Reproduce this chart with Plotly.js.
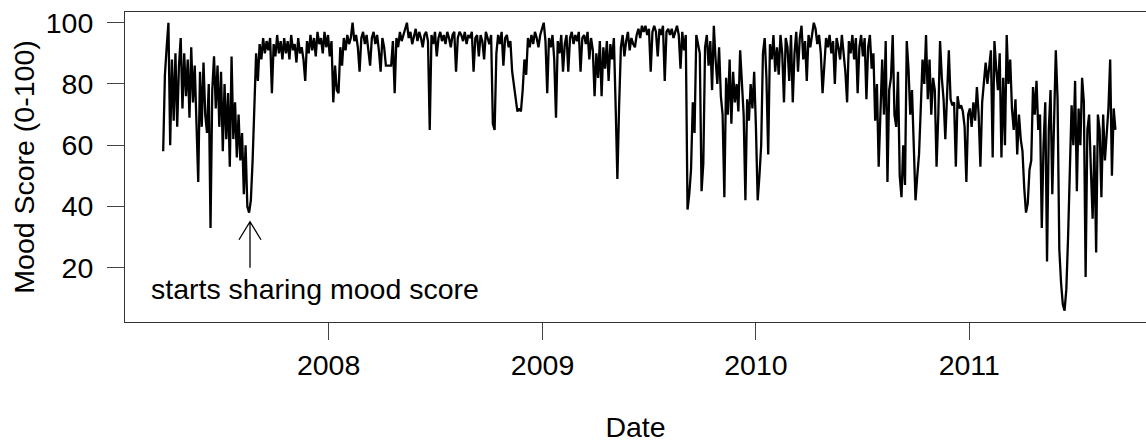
<!DOCTYPE html>
<html>
<head>
<meta charset="utf-8">
<script src="https://cdn.plot.ly/plotly-3.0.1.min.js"></script>
<style>
  html, body { margin: 0; padding: 0; background: #fff; }
  #chart { width: 1146px; height: 443px; }
</style>
</head>
<body>
<div id="chart"></div>
<script>
// Mood score series, one reading every three days starting on firstDay.
const firstDay = '2007-03-24';
const stepDays = 3;

// Mar 2007 - mid Jan 2008
const scores2007 = [
  58, 83, 92, 100, 60, 88, 68, 90, 66, 86,
  95, 72, 90, 76, 88, 69, 92, 74, 86, 70,
  48, 84, 66, 87, 70, 64, 80, 33, 78, 89,
  72, 86, 66, 84, 58, 80, 62, 77, 53, 89,
  62, 74, 56, 70, 55, 64, 44, 60, 40, 38,
  42, 55, 72, 90, 81, 93, 88, 95, 90, 94,
  91, 95, 77, 93, 89, 96, 90, 94, 88, 95,
  90, 94, 88, 96, 91, 93, 87, 95, 90, 92,
  88, 81, 94, 90, 96, 91, 95, 89, 97, 93,
  95, 90, 97, 92, 96, 89, 94, 74, 86, 78
];

// mid Jan 2008 - early Jan 2009
const scores2008 = [
  77, 92, 86, 95, 91, 96, 93, 95, 100, 94,
  96, 92, 84, 95, 97, 93, 96, 90, 86, 95,
  97, 93, 96, 91, 84, 95, 92, 86, 86, 86,
  86, 94, 77, 95, 92, 97, 94, 96, 98, 100,
  95, 97, 93, 96, 98, 94, 97, 95, 92, 96,
  97, 94, 65, 96, 93, 97, 89, 95, 97, 94,
  96, 93, 97, 95, 92, 96, 97, 84, 95, 97,
  96, 94, 97, 93, 96, 95, 97, 84, 95, 96,
  89, 96, 94, 88, 97, 95, 93, 96, 67, 65,
  90, 96, 93, 97, 86, 95, 96, 92, 94, 84,
  80, 75, 71, 72, 71, 78, 88, 83, 95, 92,
  96, 93, 97, 95, 92, 96, 98, 100, 94, 77
];

// Jan 2009 - early Jan 2010
const scores2009 = [
  95, 92, 96, 88, 69, 94, 90, 96, 84, 93,
  96, 84, 95, 97, 93, 96, 94, 97, 84, 95,
  96, 93, 97, 88, 95, 91, 76, 90, 82, 94,
  76, 92, 85, 94, 81, 93, 88, 95, 73, 49,
  73, 92, 96, 89, 94, 97, 91, 95, 93, 92,
  96, 98, 95, 99, 97, 99, 96, 98, 84, 97,
  99, 97, 89, 98, 96, 99, 81, 97, 98, 96,
  98, 95, 97, 99, 96, 85, 97, 91, 96, 39,
  44, 52, 74, 64, 96, 93, 90, 45, 54, 92,
  96, 86, 94, 78, 99, 88, 80, 92, 76, 70,
  43, 82, 70, 88, 67, 84, 74, 80, 71, 91,
  78, 70, 42, 75, 68, 80, 72, 84, 66, 42
];

// Jan 2010 - Dec 2010
const scores2010 = [
  50, 60, 90, 95, 82, 57, 93, 88, 96, 84,
  92, 83, 96, 90, 74, 95, 92, 81, 96, 74,
  90, 97, 84, 95, 99, 88, 94, 81, 96, 92,
  96, 100, 98, 93, 96, 90, 77, 85, 95, 92,
  96, 90, 94, 80, 95, 92, 88, 96, 90, 84,
  74, 94, 90, 96, 88, 95, 77, 92, 96, 89,
  95, 75, 92, 96, 85, 90, 68, 80, 53, 72,
  88, 70, 94, 48, 78, 82, 96, 70, 66, 84,
  50, 43, 60, 47, 94, 85, 70, 78, 62, 42,
  50, 57, 72, 88, 80, 96, 75, 88, 70, 82,
  78, 53, 70, 94, 82, 75, 62, 80, 91, 75,
  73, 74, 53, 76, 72, 73, 71, 66, 48, 70
];

// Jan 2011 - Sep 2011
const scores2011 = [
  72, 66, 74, 68, 79, 70, 53, 74, 82, 87,
  80, 86, 91, 56, 94, 85, 78, 90, 56, 82,
  60, 96, 80, 88, 72, 65, 75, 57, 70, 62,
  58, 46, 38, 41, 52, 55, 79, 70, 81, 65,
  70, 33, 60, 74, 22, 65, 78, 44, 72, 91,
  75, 26, 15, 8, 6, 13, 30, 55, 73, 60,
  81, 45, 72, 60, 82, 74, 17, 65, 70, 52,
  36, 60, 25, 70, 65, 43, 70, 55, 62, 72,
  88, 50, 72, 65
];

// Axis ticks
const yearTicks = ['2008-01-01', '2009-01-01', '2010-01-01', '2011-01-01'];
const yearLabels = ['2008', '2009', '2010', '2011'];
const scoreTicks = [20, 40, 60, 80, 100];

const moodScore = [].concat(scores2007, scores2008, scores2009, scores2010, scores2011);

const dayMs = 86400000;
const t0 = Date.parse(firstDay + 'T00:00:00Z');
const dates = moodScore.map((_, i) => new Date(t0 + i * stepDays * dayMs).toISOString().slice(0, 10));

const FONT = 'Liberation Sans, Arial, Helvetica, sans-serif';
const TXT = 28.5;

const trace = {
  type: 'scatter',
  mode: 'lines',
  x: dates,
  y: moodScore,
  line: { color: '#000000', width: 2.3 },
  hoverinfo: 'x+y'
};

const layout = {
  width: 1146,
  height: 443,
  margin: { l: 125, r: 0, t: 12, b: 121, pad: 0 },
  paper_bgcolor: '#ffffff',
  plot_bgcolor: '#ffffff',
  showlegend: false,
  font: { family: FONT, size: TXT, color: '#000' },
  xaxis: {
    type: 'date',
    range: ['2007-01-17 17:00', '2011-10-30 07:00'],
    tickvals: yearTicks,
    ticktext: yearLabels,
    ticks: 'outside',
    ticklen: 17,
    tickwidth: 1,
    tickcolor: '#444',
    ticklabelstandoff: 1,
    tickfont: { family: FONT, size: TXT, color: '#000' },
    showline: true,
    mirror: true,
    linecolor: '#333',
    linewidth: 1,
    showgrid: false,
    zeroline: false,
    title: { text: 'Date', font: { family: FONT, size: TXT, color: '#000' }, standoff: 46 }
  },
  yaxis: {
    range: [2.27, 103.5],
    tickvals: scoreTicks,
    ticks: 'outside',
    ticklen: 17,
    tickwidth: 1,
    tickcolor: '#444',
    ticklabelstandoff: 8,
    tickfont: { family: FONT, size: TXT, color: '#000' },
    showline: true,
    mirror: false,
    linecolor: '#333',
    linewidth: 1,
    showgrid: false,
    zeroline: false,
    title: { text: 'Mood Score (0-100)', font: { family: FONT, size: TXT, color: '#000' }, standoff: 2 }
  },
  annotations: [{
    xref: 'x', yref: 'y',
    x: '2007-02-28', y: 13,
    xanchor: 'left', yanchor: 'middle',
    text: 'starts sharing mood score',
    showarrow: false,
    font: { family: FONT, size: TXT, color: '#000' }
  }],
  shapes: [{
    // arrow pointing at the low point where sharing begins
    type: 'path',
    xref: 'x', yref: 'y',
    xsizemode: 'pixel', ysizemode: 'pixel',
    xanchor: '2007-08-19 13:00', yanchor: 35,
    path: 'M0,0 L0,-46 M-11,-18 L0,0 L11,-18',
    line: { color: '#000', width: 1.3 }
  }]
};

Plotly.newPlot('chart', [trace], layout, { staticPlot: true, displayModeBar: false });
</script>
</body>
</html>
